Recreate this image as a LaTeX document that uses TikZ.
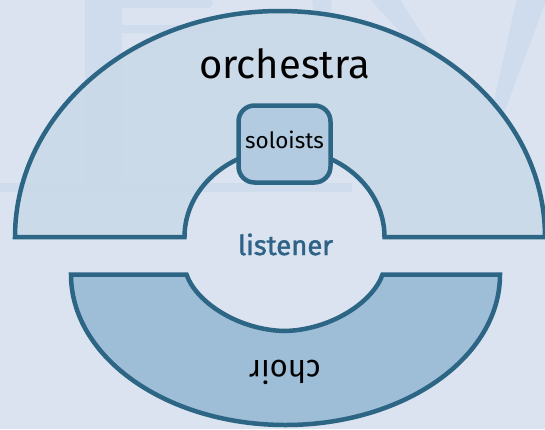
\documentclass[tikz,border=0pt]{standalone}
\usepackage{fontspec}
\setmainfont{Fira Sans}
\newfontfamily\listfont[FakeBold=1.6]{Fira Sans}
\definecolor{bgc}{HTML}{DAE3EF}
\definecolor{wmc}{HTML}{A9C6EA}
\definecolor{orchc}{HTML}{C9D9E8}
\definecolor{choirc}{HTML}{9EBDD6}
\definecolor{soloc}{HTML}{B2CBE0}
\definecolor{strokec}{HTML}{2D6585}
\definecolor{listc}{HTML}{2E6286}
\begin{document}
\begin{tikzpicture}[x=1pt,y=-1pt,
  shapeline/.style={draw=strokec, line width=4.5pt, line join=miter},
  lbl/.style={inner sep=0pt, anchor=base, text=black},
  wm/.style={fill=wmc, fill opacity=0.24, draw=none}]
\useasboundingbox (0,0) rectangle (545,429);
\fill[bgc] (0,0) rectangle (545,429);
% faint watermark
\fill[wm] (85,-2) rectangle (122,192);
\fill[wm] (122,-2) -- (208,-2) arc[start angle=-90,end angle=90,x radius=5,y radius=5] -- (122,8) -- cycle;
\fill[wm] (122,25) -- (215,25) -- (220,33) -- (122,33) -- cycle;
\fill[wm] (0,183) rectangle (85,192);
\fill[wm] (122,183) rectangle (352,192);
\fill[wm] (369,-2) -- (399,-2) -- (429,45) -- (412,45) -- cycle;
\fill[wm] (517,-2) -- (547,-2) -- (505,110) -- (492,110) -- cycle;
\fill[wm] (312,-2) -- (332,-2) -- (330,15) -- (314,15) -- cycle;
% orchestra
\path[shapeline, fill=orchc, fill opacity=0.85]
  (15,237) arc[start angle=180,end angle=360,x radius=265,y radius=226]
  -- (384.5,237) arc[start angle=0,end angle=-180,x radius=100,y radius=88]
  -- cycle;
% choir
\path[shapeline, fill=choirc]
  (71,274.5) -- (186.5,274.5)
  .. controls (196,302) and (238,330) .. (284.5,331)
  .. controls (331,330) and (373,302) .. (382.5,274.5)
  -- (500,274.5) arc[start angle=0,end angle=180,x radius=214.5,y radius=150.5]
  -- cycle;
% soloists box
\draw[shapeline, fill=soloc, rounded corners=16pt] (238.5,105.5) rectangle (330.5,182.5);
% labels
\node[lbl, font=\fontsize{40}{40}\selectfont] (orch) at (284.5,78) {orchestra};
\node[lbl, font=\fontsize{22.5}{22.5}\selectfont] (solo) at (284.5,148) {soloists};
\node[lbl, font=\listfont\fontsize{27.5}{27.5}\selectfont, text=listc] (list) at (285.5,255) {listener};
\node[lbl, font=\fontsize{31}{31}\selectfont, rotate=180] (choir) at (285,360) {choir};
\end{tikzpicture}
\end{document}
